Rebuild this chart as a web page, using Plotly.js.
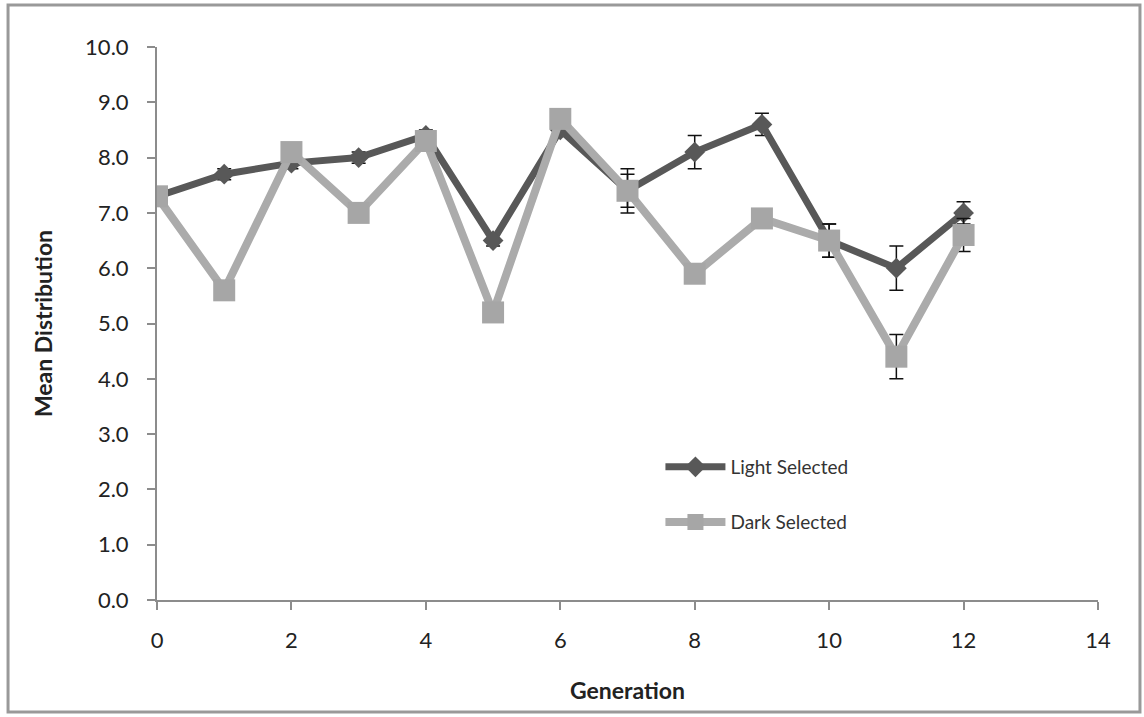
<!DOCTYPE html>
<html>
<head>
<meta charset="utf-8">
<script src="https://cdn.plot.ly/plotly-3.0.1.min.js"></script>
<style>html,body{margin:0;padding:0;background:#fff;}#chart{width:1144px;height:717px;}</style>
</head>
<body>
<div id="chart"></div>
<script>
const generations = [0,1,2,3,4,5,6,7,8,9,10,11,12];
const lightSelected = [7.3,7.7,7.9,8.0,8.4,6.5,8.5,7.4,8.1,8.6,6.5,6.0,7.0];
const lightErr = [0.1,0.1,0.1,0.1,0.1,0.1,0.1,0.4,0.3,0.2,0.3,0.4,0.2];
const darkSelected = [7.3,5.6,8.1,7.0,8.3,5.2,8.7,7.4,5.9,6.9,6.5,4.4,6.6];
const darkErr = [0.1,0.1,0.1,0.1,0.1,0.1,0.1,0.3,0.1,0.1,0.3,0.4,0.3];
const yTicks = [0,1,2,3,4,5,6,7,8,9,10];
const xTicks = [0,2,4,6,8,10,12,14];

const font = "Lato, 'Open Sans', 'DejaVu Sans', sans-serif";

const traces = [
  {
    x: generations, y: lightSelected, name: 'Light Selected', type: 'scatter', mode: 'lines+markers',
    line: {color: '#585858', width: 7},
    marker: {symbol: 'diamond', size: 16, color: '#585858'},
    error_y: {type: 'data', array: lightErr, visible: true, color: '#111', thickness: 1.5, width: 7},
    legend: 'legend'
  },
  {
    x: generations, y: darkSelected, name: 'Dark Selected', type: 'scatter', mode: 'lines+markers',
    line: {color: '#ababab', width: 8},
    marker: {symbol: 'square', size: 22, color: '#a6a6a6'},
    error_y: {type: 'data', array: darkErr, visible: true, color: '#111', thickness: 1.5, width: 7},
    legend: 'legend2'
  }
];

const legendCommon = {
  xanchor: 'left', yanchor: 'middle', bgcolor: 'rgba(0,0,0,0)',
  font: {family: font, size: 19, color: '#333'}, itemwidth: 60
};

const layout = {
  width: 1144, height: 717,
  margin: {l: 157, r: 46, t: 47, b: 117},
  paper_bgcolor: '#fff', plot_bgcolor: '#fff',
  showlegend: true,
  legend: Object.assign({x: 0.535, y: 0.2405}, legendCommon),
  legend2: Object.assign({x: 0.535, y: 0.141}, legendCommon),
  xaxis: {
    range: [0, 14], tickvals: xTicks, ticktext: xTicks.map(String),
    showgrid: false, zeroline: false, showline: true, linecolor: '#8c8c8c', linewidth: 2,
    ticks: 'outside', ticklen: 8, tickcolor: '#8c8c8c', tickwidth: 2,
    ticklabelstandoff: 12,
    tickfont: {family: font, size: 22, color: '#222'},
    title: {text: '<b>Generation</b>', font: {family: font, size: 23, color: '#222'}, standoff: 30}
  },
  yaxis: {
    range: [0, 10], tickvals: yTicks, ticktext: yTicks.map(v => v.toFixed(1)),
    showgrid: false, zeroline: false, showline: true, linecolor: '#8c8c8c', linewidth: 2,
    ticks: 'outside', ticklen: 8, tickcolor: '#8c8c8c', tickwidth: 2,
    ticklabelstandoff: 14,
    tickfont: {family: font, size: 22, color: '#222'},
    title: {text: '<b>Mean Distribution</b>', font: {family: font, size: 23, color: '#222'}, standoff: 26}
  },
  shapes: [{
    type: 'rect', xref: 'paper', yref: 'paper',
    x0: -0.1583, x1: 1.0446, y0: -0.2025, y1: 1.076,
    line: {color: '#999', width: 3}, fillcolor: 'rgba(0,0,0,0)', layer: 'below'
  }]
};

Plotly.newPlot('chart', traces, layout, {displayModeBar: false, staticPlot: true});
</script>
</body>
</html>
